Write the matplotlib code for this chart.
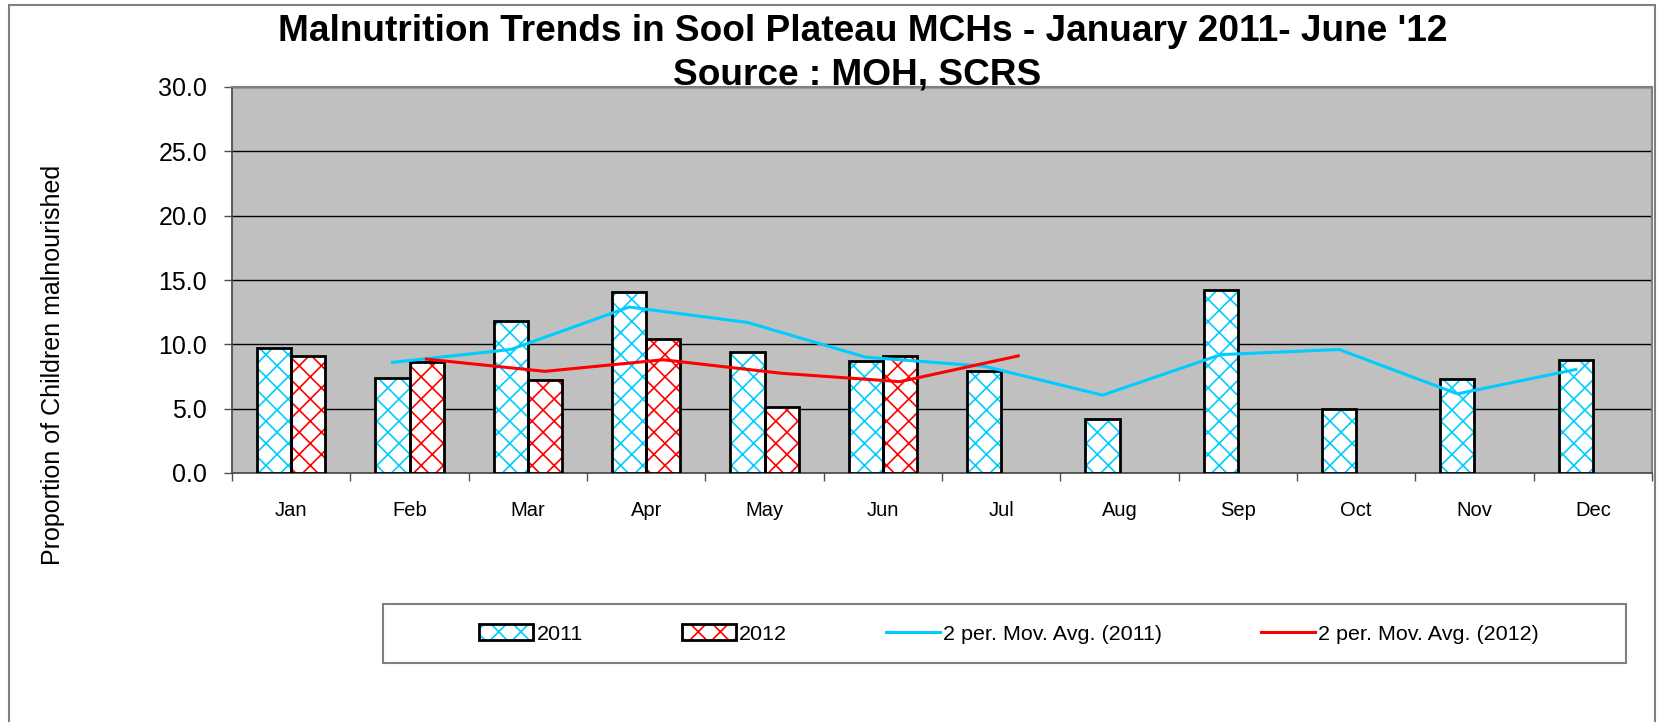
import matplotlib
matplotlib.use('Agg')
import matplotlib.pyplot as plt
import matplotlib.patches as mpatches
from matplotlib.lines import Line2D
import numpy as np

months = ['Jan', 'Feb', 'Mar', 'Apr', 'May', 'Jun', 'Jul', 'Aug', 'Sep', 'Oct', 'Nov', 'Dec']
vals_2011 = [9.7, 7.4, 11.8, 14.1, 9.4, 8.7, 7.9, 4.2, 14.2, 5.0, 7.3, 8.8]
vals_2012 = [9.1, 8.6, 7.2, 10.4, 5.1, 9.1]
# 2 period moving averages as drawn (start at Feb)
ma_2011 = [8.6, 9.6, 12.9, 11.7, 9.0, 8.3, 6.05, 9.2, 9.6, 6.15, 8.05]
ma_2012 = [8.85, 7.9, 8.8, 7.75, 7.1, 9.1]

c2011 = '#00CCFF'
c2012 = '#FF0000'

# dpi chosen so the hatch cell matches the diamond size of the original
DPI = 400 / 3
S = 100 / DPI   # sizes below are written as if at dpi 100
W, H = 1660, 722

plt.rcParams['font.family'] = ['Liberation Sans', 'DejaVu Sans']
plt.rcParams['hatch.linewidth'] = 1.2 * S

fig = plt.figure(figsize=(W / DPI, H / DPI), dpi=DPI)
fig.patch.set_facecolor('white')

# outer chart border
fig.add_artist(mpatches.Rectangle((9 / W, -0.05), (1655 - 9) / W, 1.05 - 5 / H,
                                  transform=fig.transFigure, fill=False,
                                  edgecolor='#808080', lw=1.5 * S))

ax = fig.add_axes([232 / W, (H - 473) / H, 1420 / W, 386 / H])
ax.set_facecolor('#C0C0C0')

bw = 0.2875
x = np.arange(len(months))
x11 = x - bw / 2
x12 = x[:len(vals_2012)] + bw / 2

ax.bar(x11, vals_2011, width=bw, color='white', edgecolor=c2011, hatch='xx', lw=0, zorder=3)
ax.bar(x11, vals_2011, width=bw, fill=False, edgecolor='black', lw=2 * S, zorder=4)
ax.bar(x12, vals_2012, width=bw, color='white', edgecolor=c2012, hatch='xx', lw=0, zorder=3)
ax.bar(x12, vals_2012, width=bw, fill=False, edgecolor='black', lw=2 * S, zorder=4)

ax.plot(x11[1:], ma_2011, color=c2011, lw=2.2 * S, zorder=5)
ax.plot(x12[1:].tolist() + [x[6] + bw / 2], ma_2012, color=c2012, lw=2.2 * S, zorder=5)

ax.set_xlim(-0.5, 11.5)
ax.set_ylim(0, 30)
ax.set_yticks(np.arange(0, 31, 5))
ax.set_yticklabels([f'{v:.1f}' for v in np.arange(0, 31, 5)], fontsize=18 * S)
ax.yaxis.grid(True, color='black', lw=1.0 * S, zorder=1)
ax.set_axisbelow(True)

ax.set_xticks(x)
ax.set_xticklabels(months, fontsize=14.5 * S)
ax.set_xticks(np.arange(-0.5, 12, 1), minor=True)
ax.tick_params(axis='x', which='major', length=0, pad=20 * S)
ax.tick_params(axis='x', which='minor', length=5.5 * S, width=1 * S, color='#505050', direction='out')
ax.tick_params(axis='y', length=6 * S, width=1 * S, color='#505050', pad=12 * S)

for s in ['top', 'right']:
    ax.spines[s].set_color('#808080')
    ax.spines[s].set_linewidth(1.5 * S)
for s in ['left', 'bottom']:
    ax.spines[s].set_color('#505050')
    ax.spines[s].set_linewidth(1.3 * S)

fig.text(53 / W, 1 - 365 / H, 'Proportion of Children malnourished', rotation=90,
         ha='center', va='center', fontsize=18 * S)

fig.text(863 / W, 1 - 41 / H, "Malnutrition Trends in Sool Plateau MCHs - January 2011- June '12",
         ha='center', va='baseline', fontsize=26.7 * S, fontweight='bold')
fig.text(857 / W, 1 - 85 / H, 'Source : MOH, SCRS',
         ha='center', va='baseline', fontsize=26.7 * S, fontweight='bold')

# legend
fig.add_artist(mpatches.Rectangle((383 / W, (H - 663) / H), (1626 - 383) / W, 59 / H,
                                  transform=fig.transFigure, fill=False,
                                  edgecolor='#808080', lw=1.5 * S))
h11 = (mpatches.Patch(facecolor='white', edgecolor=c2011, hatch='xx', lw=0),
       mpatches.Patch(fill=False, edgecolor='black', lw=2 * S))
h12 = (mpatches.Patch(facecolor='white', edgecolor=c2012, hatch='xx', lw=0),
       mpatches.Patch(fill=False, edgecolor='black', lw=2 * S))
l11 = Line2D([], [], color=c2011, lw=2.2 * S)
l12 = Line2D([], [], color=c2012, lw=2.2 * S)
fig.legend([h11, h12, l11, l12],
           ['2011', '2012', '2 per. Mov. Avg. (2011)', '2 per. Mov. Avg. (2012)'],
           loc='center', bbox_to_anchor=(1009 / W, 1 - 634 / H), ncol=4, frameon=False,
           fontsize=15.5 * S, handlelength=2.5, handletextpad=0.15, columnspacing=4.6)

fig.savefig('out.png', dpi=DPI)
